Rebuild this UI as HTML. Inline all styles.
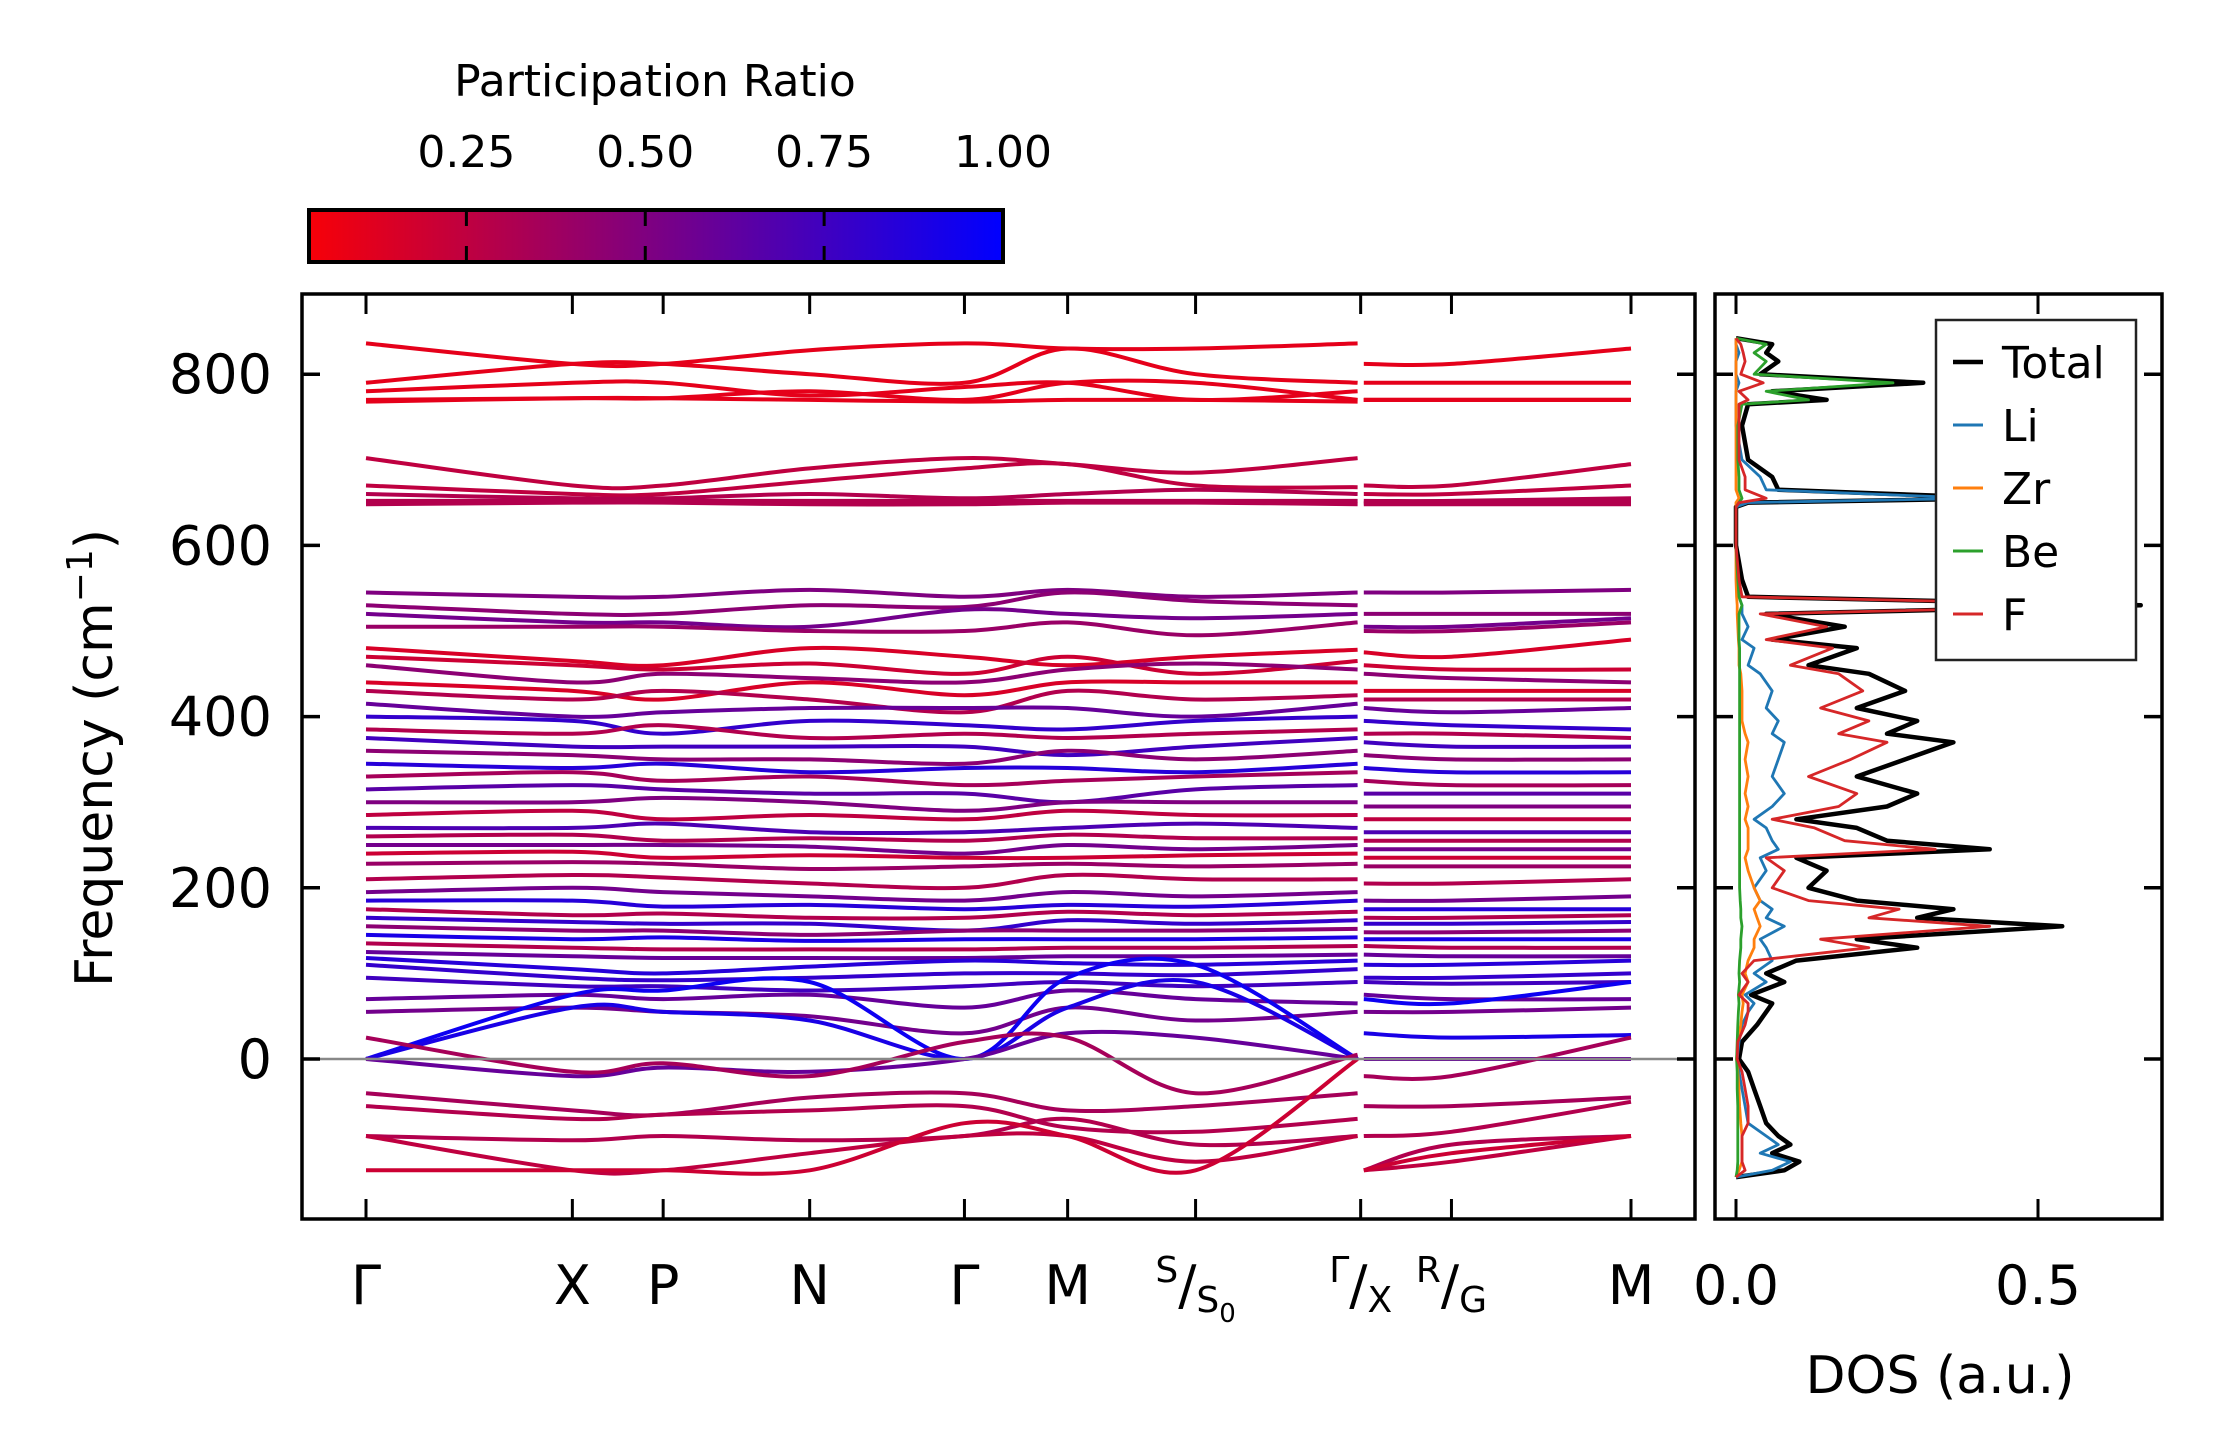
<!DOCTYPE html>
<html><head><meta charset="utf-8">
<style>
html,body{margin:0;padding:0;background:#fff;}
svg{display:block;font-family:"DejaVu Sans","Liberation Sans",sans-serif;}
</style></head>
<body>
<svg id="fig" width="2222" height="1455" viewBox="0 0 2222 1455" xmlns="http://www.w3.org/2000/svg">
<defs>
<linearGradient id="cbgrad" x1="0" x2="1" y1="0" y2="0">
<stop offset="0" stop-color="#f70008"/><stop offset="1" stop-color="#0000ff"/>
</linearGradient>
<clipPath id="clipMain"><rect x="302" y="294" width="1393" height="925"/></clipPath>
<clipPath id="clipDos"><rect x="1715" y="294" width="447" height="925"/></clipPath>
</defs>
<g id="colorbar">
<text x="655" y="96" font-size="44" text-anchor="middle">Participation Ratio</text>
<rect x="309" y="210" width="694" height="52" fill="url(#cbgrad)" stroke="#000" stroke-width="4"/>
<g id="cbticks"></g>
</g>
<g id="bands" clip-path="url(#clipMain)"></g>
<g id="mainaxis"></g>
<g id="dos" clip-path="url(#clipDos)"></g>
<g id="dosaxis"></g>
<text transform="translate(112,758) rotate(-90)" font-size="52" text-anchor="middle">Frequency (cm<tspan font-size="36" dy="-20">−1</tspan><tspan dy="20">)</tspan></text>
<text x="1940" y="1393" font-size="52" text-anchor="middle">DOS (a.u.)</text>
<g id="legend"></g>
</svg>
<script>
const kLabels = ["Γ","X","P","N","Γ","M","S/S0","Γ/X","R/G","M"];
const kPos = [0, 1, 1.44, 2.15, 2.9, 3.4, 4.02, 4.82, 5.26, 6.13];
const bandFreqs = [
[836,812,812,828,836,830,830,836, 812,812,830],
[790,812,812,800,790,830,800,790, 790,790,790],
[780,790,790,775,785,790,770,780, 770,770,770],
[770,772,772,780,770,790,790,770, 770,770,770],
[768,772,772,770,768,770,770,768, 770,770,770],
[702,670,670,690,702,695,685,702, 670,670,695],
[670,660,660,675,690,695,670,668, 660,660,670],
[660,655,655,660,655,660,665,660, 652,652,655],
[652,652,652,652,652,652,652,652, 650,650,652],
[648,650,650,648,648,650,650,648, 648,648,648],
[545,540,540,548,540,548,540,545, 545,545,548],
[530,520,520,530,528,545,535,530, 520,520,520],
[520,510,510,505,525,520,515,520, 505,505,515],
[505,505,505,500,500,510,495,510, 500,500,510],
[480,465,460,480,470,460,470,478, 475,470,490],
[470,460,455,462,450,470,450,465, 460,455,455],
[460,440,450,445,440,455,462,455, 450,445,440],
[440,430,420,440,425,440,440,440, 430,430,430],
[430,420,430,420,405,430,420,425, 420,420,420],
[415,400,405,410,410,410,400,415, 410,405,410],
[400,395,380,395,390,385,395,400, 395,390,385],
[385,380,390,375,380,375,380,385, 380,380,375],
[375,365,365,365,365,355,365,375, 370,365,365],
[360,355,350,350,345,360,350,360, 355,350,350],
[345,340,345,335,340,340,335,345, 340,335,335],
[330,335,325,330,320,325,330,335, 325,320,320],
[315,320,315,310,310,300,315,320, 310,310,310],
[300,300,305,300,290,300,300,300, 295,295,295],
[285,290,280,285,280,290,285,285, 280,280,280],
[270,270,275,265,265,270,275,270, 265,265,265],
[260,262,255,258,255,262,258,258, 255,255,255],
[250,250,250,248,240,250,245,250, 245,245,245],
[240,242,235,238,235,235,238,240, 235,235,235],
[228,230,228,222,225,228,225,228, 225,225,225],
[210,215,212,205,200,215,210,210, 205,205,210],
[195,200,195,190,185,195,190,195, 185,185,190],
[185,185,178,180,175,180,178,185, 175,175,175],
[175,168,170,165,165,172,168,172, 165,165,168],
[165,160,158,158,150,162,158,162, 158,158,160],
[155,150,150,145,150,150,150,152, 148,148,150],
[145,140,142,138,140,140,140,142, 140,140,140],
[135,130,128,128,128,130,130,132, 132,130,130],
[125,120,118,118,118,120,120,122, 122,120,120],
[118,105,100,108,115,112,110,115, 110,110,115],
[110,95,92,95,100,100,98,105, 95,95,100],
[95,85,85,80,85,90,85,90, 90,88,90],
[70,75,70,75,60,80,70,65, 75,70,70],
[55,60,55,50,30,60,45,55, 55,55,60],
[0,75,80,90,0,95,110,0, 70,65,90],
[0,60,55,45,0,60,90,0, 30,25,28],
[0,-20,-10,-15,0,30,25,0, 0,0,0],
[25,-15,-5,-20,20,25,-40,5, -20,-20,25],
[-40,-60,-65,-45,-40,-60,-55,-40, -55,-55,-45],
[-55,-70,-65,-60,-55,-80,-85,-70, -90,-85,-50],
[-90,-95,-90,-95,-90,-70,-100,-90, -130,-100,-90],
[-90,-130,-130,-110,-90,-90,-120,-90, -130,-120,-90],
[-130,-130,-130,-130,-75,-90,-130,0, -130,-110,-90]
];
const bandPR = [0.1,0.1,0.1,0.1,0.1,0.25,0.25,0.3,0.3,0.3,
0.5,0.45,0.55,0.4,0.15,0.2,0.45,0.15,0.3,0.6,
0.8,0.3,0.75,0.45,0.85,0.35,0.65,0.5,0.25,0.7,
0.3,0.55,0.2,0.4,0.3,0.55,0.85,0.3,0.8,0.45,
0.9,0.3,0.6,0.85,0.8,0.75,0.6,0.55,0.95,0.9,
0.6,0.35,0.35,0.3,0.3,0.25,0.2];
const freqTicks = [0,200,400,600,800];
const cbTicks = [0.25,0.5,0.75,1.0];
const dosFreq = [-138,-130,-120,-110,-100,-90,-75,-55,-35,-15,
0,20,40,55,65,75,90,100,115,130,
140,155,165,175,185,200,220,235,245,255,
270,280,295,310,330,350,370,380,395,410,
430,450,460,480,490,505,520,530,540,560,
600,645,650,655,665,680,700,740,765,770,
780,790,800,815,825,835,842];
const dosTotal = [0,0.08,0.105,0.06,0.09,0.07,0.05,0.04,0.03,0.02,
0.005,0.01,0.035,0.05,0.06,0.025,0.08,0.05,0.1,0.3,
0.2,0.54,0.3,0.36,0.2,0.12,0.15,0.1,0.42,0.25,
0.2,0.1,0.25,0.3,0.2,0.28,0.36,0.25,0.3,0.2,
0.28,0.22,0.12,0.2,0.06,0.18,0.05,0.67,0.02,0.01,
0,0,0.02,0.45,0.07,0.06,0.02,0.01,0.02,0.15,
0.06,0.31,0.04,0.07,0.05,0.06,0];
const dosLi = [0,0.06,0.09,0.04,0.07,0.05,0.02,0.015,0.01,0.005,
0.002,0.005,0.01,0.02,0.03,0.015,0.05,0.03,0.06,0.05,
0.04,0.08,0.05,0.06,0.04,0.03,0.05,0.04,0.07,0.06,
0.05,0.03,0.06,0.08,0.06,0.07,0.08,0.06,0.07,0.05,
0.06,0.04,0.02,0.03,0.01,0.02,0.01,0.01,0.005,0.002,
0,0,0.02,0.4,0.05,0.04,0.01,0,0,0,
0,0.005,0,0,0.005,0,0];
const dosZr = [0,0.005,0.01,0.01,0.01,0.01,0.008,0.006,0.005,0.003,
0.001,0.003,0.008,0.01,0.012,0.01,0.02,0.015,0.02,0.03,
0.03,0.04,0.035,0.03,0.04,0.03,0.02,0.015,0.02,0.02,
0.02,0.015,0.02,0.015,0.02,0.015,0.02,0.015,0.01,0.01,
0.01,0.008,0.005,0.005,0.004,0.003,0.002,0.002,0.001,0,
0,0,0,0.005,0,0,0,0,0,0,
0,0,0,0,0,0,0];
const dosBe = [0,0.002,0.003,0.003,0.003,0.003,0.003,0.003,0.002,0.002,
0.001,0.002,0.003,0.004,0.005,0.004,0.006,0.005,0.006,0.008,
0.008,0.01,0.008,0.008,0.007,0.006,0.006,0.006,0.006,0.006,
0.006,0.006,0.006,0.006,0.006,0.006,0.006,0.006,0.006,0.006,
0.006,0.006,0.006,0.006,0.005,0.005,0.005,0.01,0.005,0.003,
0,0,0.005,0.01,0.005,0.005,0.003,0.003,0.01,0.12,
0.05,0.26,0.03,0.05,0.03,0.05,0];
const dosF = [0,0.015,0.01,0.01,0.01,0.01,0.02,0.02,0.015,0.01,
0.002,0.003,0.015,0.02,0.02,0.005,0.02,0.01,0.03,0.22,
0.14,0.42,0.22,0.27,0.12,0.06,0.08,0.05,0.33,0.18,
0.13,0.06,0.17,0.2,0.12,0.19,0.25,0.17,0.22,0.14,
0.21,0.17,0.09,0.16,0.05,0.15,0.04,0.65,0.01,0.005,
0,0,0.005,0.05,0.015,0.015,0.005,0.005,0.005,0.02,
0.005,0.045,0.008,0.015,0.012,0.008,0];
const dosTicks = [0.0,0.5];
const dosTickLabels = ["0.0","0.5"];

const NS="http://www.w3.org/2000/svg";
const MX0=302,MX1=1695,MY0=294,MY1=1219;
const kX0=366,kX1=1631;
function xk(k){return kX0+(k-kPos[0])/(kPos[kPos.length-1]-kPos[0])*(kX1-kX0);}
function yf(f){return 1059-f*0.856;}
const DX0=1715,DX1=2162;
function xd(v){return 1736+v*604;}
const CB0=309,CB1=1003,VMIN=0.03;
function xcb(v){return CB0+(v-VMIN)/(1-VMIN)*(CB1-CB0);}
function prColor(p){const t=Math.max(0,Math.min(1,(p-VMIN)/(1-VMIN)));return `rgb(${Math.round(247*(1-t))},0,${Math.round(8+247*t)})`;}
function mk(tag,attrs,parent){const e=document.createElementNS(NS,tag);for(const k in attrs)e.setAttribute(k,attrs[k]);parent.appendChild(e);return e;}

const gB=document.getElementById('bands');
function spline(pts){
  let d=`M${pts[0][0].toFixed(1)},${pts[0][1].toFixed(1)}`;
  for(let i=0;i<pts.length-1;i++){
    const p0=pts[Math.max(0,i-1)],p1=pts[i],p2=pts[i+1],p3=pts[Math.min(pts.length-1,i+2)];
    const c1=[p1[0]+(p2[0]-p0[0])/6,p1[1]+(p2[1]-p0[1])/6];
    const c2=[p2[0]-(p3[0]-p1[0])/6,p2[1]-(p3[1]-p1[1])/6];
    d+=`C${c1[0].toFixed(1)},${c1[1].toFixed(1)} ${c2[0].toFixed(1)},${c2[1].toFixed(1)} ${p2[0].toFixed(1)},${p2[1].toFixed(1)}`;
  }
  return d;
}
const gapOff=0.015;
bandFreqs.forEach((fr,bi)=>{
  const col=prColor(bandPR[bi]);
  const seg1=[];for(let i=0;i<8;i++)seg1.push([xk(kPos[i]-(i===7?gapOff:0)),yf(fr[i])]);
  const seg2=[[xk(kPos[7]+gapOff),yf(fr[8])],[xk(kPos[8]),yf(fr[9])],[xk(kPos[9]),yf(fr[10])]];
  [seg1,seg2].forEach((s,si)=>{
    const p=mk('path',{d:spline(s),fill:'none',stroke:col,'stroke-width':4,'stroke-linecap':'butt'},gB);
    
    
  });
});

const gA=document.getElementById('mainaxis');
const zl=mk('line',{x1:MX0,x2:MX1,y1:yf(0),y2:yf(0),stroke:'#888',"stroke-width":2.5},gA);


const fr=mk('rect',{x:MX0,y:MY0,width:MX1-MX0,height:MY1-MY0,fill:'none',stroke:'#000','stroke-width':3.5},gA);


freqTicks.forEach(f=>{
  const y=yf(f);
  mk('line',{x1:MX0,x2:MX0+18,y1:y,y2:y,stroke:'#000','stroke-width':3.5},gA);
  mk('line',{x1:MX1-18,x2:MX1,y1:y,y2:y,stroke:'#000','stroke-width':3.5},gA);
  const t=mk('text',{x:272,y:y+19,'font-size':54,'text-anchor':'end'},gA);
  t.textContent=String(f);
  
  
});
kPos.forEach((k,i)=>{
  const x=xk(k);
  mk('line',{x1:x,x2:x,y1:MY0,y2:MY0+20,stroke:'#000','stroke-width':3},gA);
  mk('line',{x1:x,x2:x,y1:MY1-20,y2:MY1,stroke:'#000','stroke-width':3},gA);
  const t=mk('text',{x:x,y:1304,'font-size':54,'text-anchor':'middle'},gA);
  const lab=kLabels[i];
  if(lab.indexOf('/')>=0){
    const parts=lab.split('/');
    const a=mk('tspan',{'font-size':36,dy:-22},t);a.textContent=parts[0];
    const b=mk('tspan',{dy:22},t);b.textContent='/';
    const c=mk('tspan',{'font-size':36,dy:8},t);c.textContent=parts[1].replace('0','');
    if(parts[1].indexOf('0')>=0){const s=mk('tspan',{'font-size':26,dy:10},t);s.textContent='0';}
  } else t.textContent=lab;
  
  
});

const gC=document.getElementById('cbticks');
cbTicks.forEach(v=>{
  const x=xcb(v);
  if(v<1){
    mk('line',{x1:x,x2:x,y1:210,y2:226,stroke:'#000','stroke-width':3},gC);
    mk('line',{x1:x,x2:x,y1:246,y2:262,stroke:'#000','stroke-width':3},gC);
  }
  const t=mk('text',{x:x,y:167,'font-size':44,'text-anchor':'middle'},gC);
  t.textContent=v.toFixed(2);
  
  
});

const gD=document.getElementById('dos');
const series=[[dosTotal,'#000',4.5,'total'],[dosLi,'#1f77b4',2.8,'li'],[dosZr,'#ff7f0e',2.8,'zr'],[dosBe,'#2ca02c',2.8,'be'],[dosF,'#d62728',2.8,'f']];
series.forEach(s=>{
  let d='';
  s[0].forEach((v,i)=>{d+=(i?'L':'M')+xd(v).toFixed(1)+','+yf(dosFreq[i]).toFixed(1);});
  const p=mk('path',{d:d,fill:'none',stroke:s[1],'stroke-width':s[2],'stroke-linejoin':'round'},gD);
  
  
});
const gDA=document.getElementById('dosaxis');
const df=mk('rect',{x:DX0,y:MY0,width:DX1-DX0,height:MY1-MY0,fill:'none',stroke:'#000','stroke-width':3.5},gDA);


freqTicks.forEach(f=>{
  const y=yf(f);
  mk('line',{x1:DX0,x2:DX0+18,y1:y,y2:y,stroke:'#000','stroke-width':3.5},gDA);
  mk('line',{x1:DX1-18,x2:DX1,y1:y,y2:y,stroke:'#000','stroke-width':3.5},gDA);
});
dosTicks.forEach((v,i)=>{
  const x=xd(v);
  mk('line',{x1:x,x2:x,y1:MY0,y2:MY0+20,stroke:'#000','stroke-width':3},gDA);
  mk('line',{x1:x,x2:x,y1:MY1-20,y2:MY1,stroke:'#000','stroke-width':3},gDA);
  const t=mk('text',{x:x,y:1304,'font-size':54,'text-anchor':'middle'},gDA);
  t.textContent=dosTickLabels[i];
  
  
});

const gL=document.getElementById('legend');
const lb=mk('rect',{x:1936,y:320,width:200,height:340,fill:'#fff',stroke:'#222','stroke-width':2.5},gL);


const legNames=['Total','Li','Zr','Be','F'];
series.forEach((s,i)=>{
  const y=362+i*63;
  mk('line',{x1:1953,x2:1983,y1:y,y2:y,stroke:s[1],'stroke-width':i===0?4.5:3},gL);
  const t=mk('text',{x:2002,y:y+16,'font-size':44},gL);
  t.textContent=legNames[i];
  
  
});
</script>
</body></html>
